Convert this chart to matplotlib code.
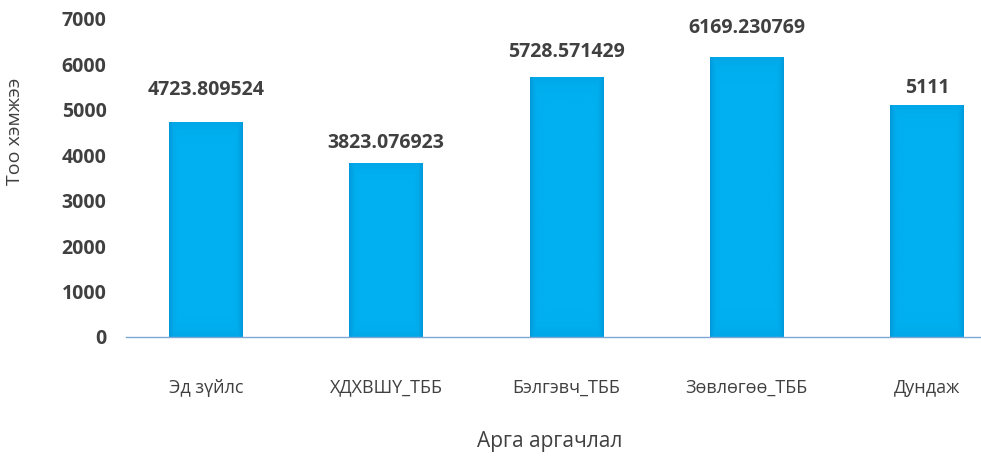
import matplotlib
matplotlib.use("Agg")
import matplotlib.pyplot as plt
import numpy as np

categories = ["Эд зүйлс", "ХДХВШҮ_ТББ", "Бэлгэвч_ТББ", "Зөвлөгөө_ТББ", "Дундаж"]
values = [4723.809524, 3823.076923, 5728.571429, 6169.230769, 5111]
labels = ["4723.809524", "3823.076923", "5728.571429", "6169.230769", "5111"]
yticks = [0, 1000, 2000, 3000, 4000, 5000, 6000, 7000]

# label offsets above bar tops (points)
label_offsets = [23, 14.5, 18, 21, 12]

plt.rcParams['font.family'] = ['Open Sans', 'DejaVu Sans']
txt = '#404040'

fig = plt.figure(figsize=(9.81, 4.57), dpi=100)
ax = fig.add_axes([126/981, 1-337/457, 1-126/981, (337-19)/457])

x = np.arange(len(categories))
bars = ax.bar(x, values, width=0.41, color='#00B0F0', zorder=2)

# subtle edge-darkening gradient inside each bar
n = 64
u = np.linspace(-1, 1, n)
U, V = np.meshgrid(u, u)
d = np.maximum(np.abs(U), np.abs(V) * 0.9)
t = np.clip((d - 0.75) / 0.25, 0, 1) ** 2
c0 = np.array([0x00, 0xB0, 0xF0]) / 255
c1 = np.array([0x00, 0x9A, 0xDC]) / 255
img = c0[None, None, :] * (1 - t[..., None]) + c1[None, None, :] * t[..., None]
for b in bars:
    x0, y0 = b.get_x(), b.get_y()
    w, h = b.get_width(), b.get_height()
    im = ax.imshow(img, extent=[x0, x0 + w, y0, y0 + h], aspect='auto', zorder=3,
                   interpolation='bilinear')
    im.set_clip_path(b)

for xi, v, lab, off in zip(x, values, labels, label_offsets):
    ax.annotate(lab, (xi, v), xytext=(0, off), textcoords='offset points',
                ha='center', va='center', fontsize=14, fontweight='bold', color=txt)

ax.set_xlim(-0.444, 4.3)
ax.set_ylim(0, 7000)
ax.set_yticks(yticks)
ax.set_yticklabels([str(v) for v in yticks], fontsize=14, fontweight='bold', color=txt)
ax.set_xticks(x)
ax.set_xticklabels(categories, fontsize=13, color=txt)
ax.tick_params(axis='both', length=0)
ax.tick_params(axis='x', pad=30)
ax.tick_params(axis='y', pad=14)

for s in ['top', 'right', 'left']:
    ax.spines[s].set_visible(False)
ax.spines['bottom'].set_color('#7FA7D6')
ax.spines['bottom'].set_linewidth(1.0)
ax.spines['bottom'].set_zorder(4)

fig.text(15/981, 1-131/457, "Тоо хэмжээ", rotation=90, ha='center', va='center',
         fontsize=14, color=txt)
fig.text(550/981, 1-442/457, "Арга аргачлал", ha='center', va='center',
         fontsize=15, color=txt)

fig.savefig("out.png", dpi=100)
